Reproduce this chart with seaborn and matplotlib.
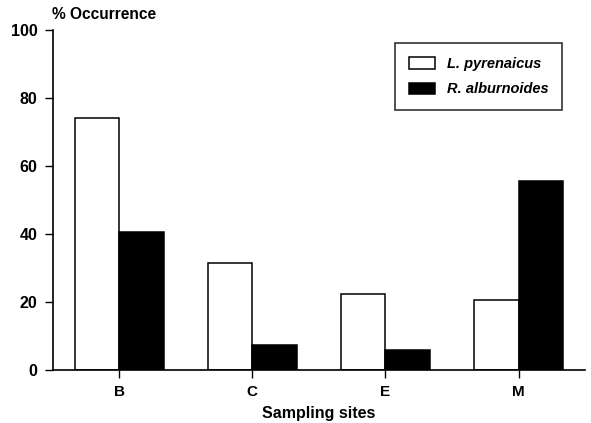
import matplotlib
matplotlib.use("Agg")
import matplotlib.pyplot as plt
import seaborn as sns
import pandas as pd

sites = ["B", "C", "E", "M"]
species = ["L. pyrenaicus", "R. alburnoides"]
l_pyrenaicus = [74.0, 31.5, 22.5, 20.5]
r_alburnoides = [40.5, 7.5, 6.0, 55.5]
y_ticks = [0, 20, 40, 60, 80, 100]

df = pd.DataFrame({
    "site": sites * 2,
    "species": [species[0]] * 4 + [species[1]] * 4,
    "value": l_pyrenaicus + r_alburnoides,
})

sns.set_style("white")
plt.rcParams["font.family"] = ["Liberation Sans", "DejaVu Sans"]
plt.rcParams["font.weight"] = "bold"
plt.rcParams["text.color"] = "black"
plt.rcParams["xtick.color"] = "black"
plt.rcParams["ytick.color"] = "black"
plt.rcParams["axes.labelcolor"] = "black"

fig = plt.figure(figsize=(5.91, 4.23), dpi=100)
ax = fig.add_axes([0.0892, 0.1253, 0.9008, 0.8037])

sns.barplot(data=df, x="site", y="value", hue="species", order=sites,
            hue_order=species, palette=["white", "black"], width=0.667,
            edgecolor="black", linewidth=1.1, saturation=1, ax=ax,
            errorbar=None)

ax.set_xlim(-0.5, 3.5)
ax.set_ylim(0, 100)
ax.set_yticks(y_ticks)
ax.set_yticklabels([str(t) for t in y_ticks], fontsize=11.5, fontweight="bold")
ax.set_xticks(range(len(sites)))
ax.set_xticklabels(sites, fontsize=11, fontweight="bold")
ax.tick_params(axis="x", bottom=True, direction="out", length=6, width=1,
               color="black", pad=5)
ax.tick_params(axis="y", left=True, direction="out", length=6, width=1,
               color="black", pad=5)
for s in ["top", "right"]:
    ax.spines[s].set_visible(False)
for s in ["left", "bottom"]:
    ax.spines[s].set_color("black")
    ax.spines[s].set_linewidth(1.2)

ax.set_xlabel("Sampling sites", fontsize=11.5, fontweight="bold", labelpad=5)
ax.set_ylabel("")
fig.text(52 / 591, 1 - 14.5 / 423, "% Occurrence", fontsize=11.2,
         fontweight="bold", ha="left", va="center")

leg = ax.legend(loc="upper right", bbox_to_anchor=(0.957, 0.962), frameon=True,
                fancybox=False, edgecolor="black", fontsize=10.5,
                handlelength=1.8, handleheight=0.85, borderpad=0.95,
                labelspacing=0.8, handletextpad=0.8, borderaxespad=0)
leg.get_frame().set_linewidth(1.2)
for t in leg.get_texts():
    t.set_fontstyle("italic")
    t.set_fontweight("bold")

fig.savefig("out.png", dpi=100)
